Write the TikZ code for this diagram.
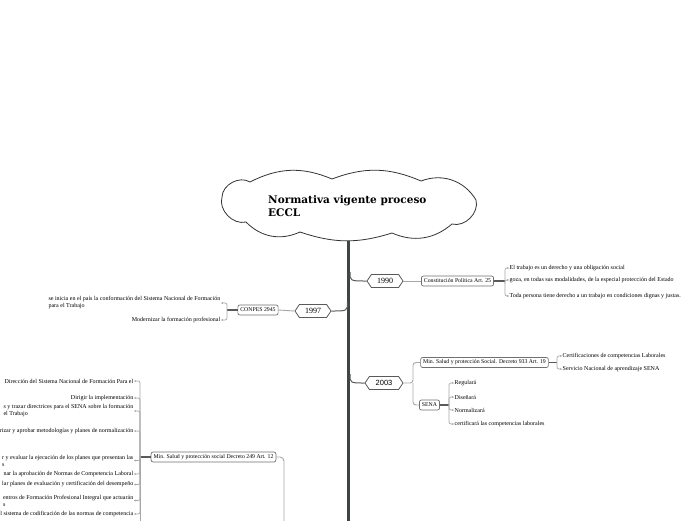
\documentclass[tikz,border=0pt]{standalone}
\usepackage{fontspec}
\setmainfont{Liberation Serif}
\newfontfamily\titlefont{DejaVu Serif}
\newfontfamily\sansf{Liberation Sans}
\usetikzlibrary{shapes.symbols,shapes.misc,arrows.meta}
\definecolor{trunkc}{HTML}{3E4545}
\definecolor{connc}{HTML}{A8A8A8}
\definecolor{darkc}{HTML}{5A5A5A}
\definecolor{boxd}{HTML}{707070}
\begin{document}
\begin{tikzpicture}[x=1pt,y=-1pt,
  hexa/.style={signal, signal to=east and west, signal pointer angle=112, draw=darkc, line width=0.8pt, fill=white, minimum width=36pt, minimum height=13pt, inner sep=1pt, font=\fontsize{8}{8}\selectfont},
  topic/.style={draw=boxd, line width=0.7pt, rounded corners=2pt, fill=white, inner xsep=2.5pt, inner ysep=0pt, minimum height=10pt, font=\fontsize{5.8}{6.5}\selectfont},
  leaftxt/.style={inner sep=0.5pt, font=\fontsize{6}{7}\selectfont, align=left},
  branch/.style={connc, line width=0.9pt},
  yearc/.style={darkc, line width=1pt},
  stem/.style={darkc, line width=1.5pt},
  leafc/.style={connc, line width=0.7pt, rounded corners=2pt, -{Stealth[length=2pt,width=2pt]}},
]
\fill[white] (0,0) rectangle (696,520);
\useasboundingbox (0,0) rectangle (696,520);
\clip (0,0) rectangle (696,520);

% trunk
\coordinate (ttop) at (348.8,232);
\coordinate (tend) at (348.8,530);
\draw[trunkc, line width=3pt] (ttop) -- (tend);

% central topic (cloud)
\draw[black!80, line width=0.8pt, fill=white]
  (222,197) to[bend left=60] (250,182)
  to[bend left=25] (332,179)
  to[bend left=22] (421,181)
  to[bend left=40] (476,200)
  to[bend left=60] (452,224)
  to[bend left=32] (392,233)
  to[bend left=18] (300,232)
  to[bend left=35] (246,222)
  to[bend left=60] cycle;
\node[anchor=west, align=left, font=\titlefont\bfseries\fontsize{10.5}{13}\selectfont, inner sep=0pt] (title) at (268,206) {Normativa vigente proceso\\ECCL};

% years
\node[hexa] (y1990) at (385,281) {1990};
\node[hexa] (y1997) at (313,311) {1997};
\node[hexa, minimum width=38pt, font=\sansf\fontsize{7.5}{8}\selectfont] (y2003) at (384,383) {2003};

\coordinate (t1990) at (350,272);
\coordinate (t1997) at (347.5,302);
\coordinate (t2003) at (350,374);
\draw[yearc] (t1990) .. controls (350,281) .. (y1990.west);
\draw[yearc] (t1997) .. controls (347.5,311) .. (y1997.east);
\draw[yearc] (t2003) .. controls (350,383) .. (y2003.west);

% topics
\node[topic] (cp) at (457.5,281) {Constitución Política Art. 25};
\node[topic] (conpes) at (258,310) {CONPES 2945};
\node[topic] (ms933) at (484.5,362.5) {Min. Salud y protección Social. Decreto 933 Art. 19};
\node[topic] (sena) at (429.5,405) {SENA};
\node[topic] (ms249) at (213.5,457) {Min. Salud y protección social Decreto 249 Art. 12};

\draw[branch] (y1990.east) -- (cp.west);
\draw[branch] (y1997.west) -- (conpes.east);
\coordinate (j2003) at (413,383);
\draw[branch, rounded corners=3pt] (y2003.east) -- (j2003) |- (ms933.west);
\draw[branch, rounded corners=3pt] (j2003) |- (sena.west);
\coordinate (offb) at (284,530);
\draw[branch, rounded corners=4pt] (ms249.east) -| (offb);

% Constitucion leaves
\node[leaftxt, anchor=west] (cp1) at (509,268) {El trabajo es un derecho y una obligación social};
\node[leaftxt, anchor=west] (cp2) at (509,280) {goza, en todas sus modalidades, de la especial protección del Estado};
\node[leaftxt, anchor=west] (cp3) at (509,296) {Toda persona tiene derecho a un trabajo en condiciones dignas y justas.};
\coordinate (cpj) at (505,281);
\draw[stem] (cp.east) -- (cpj);
\foreach \l in {cp1,cp2,cp3} \draw[leafc] (cpj) |- (\l.west);

% CONPES leaves
\node[leaftxt, anchor=east] (co1) at (221,303) {se inicia en el país la conformación del Sistema Nacional de Formación\\para el Trabajo};
\node[leaftxt, anchor=east] (co2) at (221,320) {Modernizar la formación profesional};
\coordinate (coj) at (227,310);
\draw[stem] (conpes.west) -- (coj);
\foreach \l in {co1,co2} \draw[leafc] (coj) |- (\l.east);

% Decreto 933 leaves
\node[leaftxt, anchor=west] (m1) at (562,356) {Certificaciones de competencias Laborales};
\node[leaftxt, anchor=west] (m2) at (562,369) {Servicio Nacional de aprendizaje SENA};
\coordinate (mj) at (557,362.5);
\draw[stem] (ms933.east) -- (mj);
\foreach \l in {m1,m2} \draw[leafc] (mj) |- (\l.west);

% SENA leaves
\node[leaftxt, anchor=west] (s1) at (454,383) {Regulará};
\node[leaftxt, anchor=west] (s2) at (454,397) {Diseñará};
\node[leaftxt, anchor=west] (s3) at (454,410) {Normalizará};
\node[leaftxt, anchor=west] (s4) at (454,424) {certificará las competencias laborales};
\coordinate (sj) at (449,405);
\draw[stem] (sena.east) -- (sj);
\foreach \l in {s1,s2,s3,s4} \draw[leafc] (sj) |- (\l.west);

% Decreto 249 leaves
\node[leaftxt, anchor=east] (d1) at (134,381) {Dirección del Sistema Nacional de Formación Para el};
\node[leaftxt, anchor=east] (d2) at (134,398) {Dirigir la implementación};
\node[leaftxt, anchor=east] (d3) at (134,411) {s y trazar directrices para el SENA sobre la formación\\el Trabajo};
\node[leaftxt, anchor=east] (d4) at (134,431) {rizar y aprobar metodologías y planes de normalización};
\node[leaftxt, anchor=east] (d5) at (134,460.5) {r y evaluar la ejecución de los planes que presentan las\\s};
\node[leaftxt, anchor=east] (d6) at (134,474) {nar la aprobación de Normas de Competencia Laboral};
\node[leaftxt, anchor=east] (d7) at (134,484.5) {lar planes de evaluación y certificación del desempeño};
\node[leaftxt, anchor=east] (d8) at (134,500.5) {entros de Formación Profesional Integral que actuarán\\s};
\node[leaftxt, anchor=east] (d9) at (134,514) {l sistema de codificación de las normas de competencia};
\coordinate (dj) at (140,457);
\coordinate (dbot) at (140,530);
\draw[stem] (ms249.west) -- (dj);
\draw[connc, line width=0.7pt] (dj) -- (dbot);
\foreach \l in {d1,d2,d3,d4,d5,d6,d7,d8,d9} \draw[leafc] (dj) |- (\l.east);
\end{tikzpicture}
\end{document}
